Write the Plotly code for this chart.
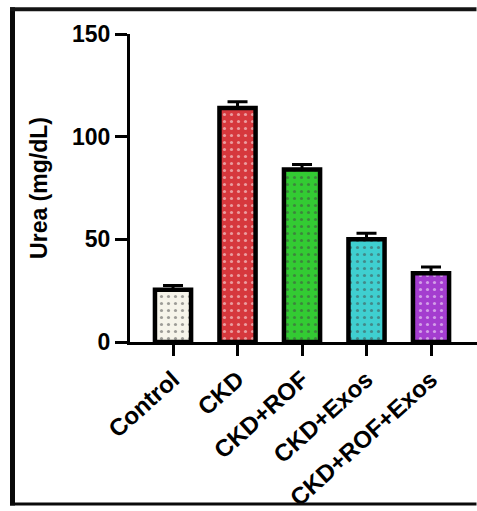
import plotly.graph_objects as go

categories = ["Control", "CKD", "CKD+ROF", "CKD+Exos", "CKD+ROF+Exos"]
urea_mean = [25.5, 114, 84, 50, 33.5]
urea_sem = [2, 3, 2.5, 3, 3]
bar_colors = ["#f6f4ea", "#d6383d", "#33cb33", "#3fcfd0", "#a43dcf"]
dot_colors = ["#6b6b60", "#8a6a5a", "#5a905a", "#4a8a8a", "#7a6a90"]
y_ticks = [0, 50, 100, 150]

W, H = 477, 511
L, R, T, B = 130, 0, 34, 166
pw, ph = W - L - R, H - T - B

def px_x(p):
    return (p - L) / pw

def px_y(p):
    return (H - B - p) / ph

def frame_rect(x0, y0, x1, y1, c="black"):
    return dict(type="rect", xref="paper", yref="paper", layer="above",
                x0=px_x(x0), x1=px_x(x1), y0=px_y(y1), y1=px_y(y0),
                fillcolor=c, line=dict(width=0))

fig = go.Figure()
fig.add_trace(go.Bar(
    x=list(range(len(categories))),
    y=urea_mean,
    width=0.56,
    marker=dict(
        color=bar_colors,
        line=dict(color="black", width=4.5),
        pattern=dict(shape=".", fillmode="overlay", fgcolor=dot_colors,
                     size=7, solidity=0.16),
    ),
    error_y=dict(type="data", array=urea_sem, arrayminus=[0] * 5,
                 color="black", thickness=3, width=10),
    showlegend=False,
))

font_family = "Liberation Sans, Arial, sans-serif"
fig.update_layout(
    width=W, height=H,
    margin=dict(l=L, r=R, t=T, b=B, pad=0),
    plot_bgcolor="white", paper_bgcolor="white",
    font=dict(family=font_family, color="black"),
    xaxis=dict(
        range=[-0.667, 4.713],
        tickmode="array",
        tickvals=list(range(len(categories))),
        ticktext=categories,
        tickangle=-42,
        tickfont=dict(size=24, family=font_family, weight="bold", color="black"),
        showline=True, linecolor="black", linewidth=3,
        ticks="outside", ticklen=11, tickwidth=3, tickcolor="black",
        showgrid=False, zeroline=False,
    ),
    yaxis=dict(
        range=[0, 150],
        tickvals=y_ticks,
        tickfont=dict(size=23, family=font_family, weight="bold", color="black"),
        showline=True, linecolor="black", linewidth=3,
        ticks="outside", ticklen=12, tickwidth=3, tickcolor="black",
        showgrid=False, zeroline=False,
        title=dict(text="Urea (mg/dL)", standoff=18,
                   font=dict(size=23, family=font_family, weight="bold", color="black")),
    ),
    shapes=[
        frame_rect(10, 7, 15, 510, "#0a0a0a"),
        frame_rect(10, 7, 476.5, 11, "#141414"),
        frame_rect(10, 507, 476.5, 510, "#0a0a0a"),
    ],
)

fig.write_html(
    "out.html",
    config={"displayModeBar": False},
    post_script="document.body.style.margin='0';document.body.style.overflow='hidden';",
)
